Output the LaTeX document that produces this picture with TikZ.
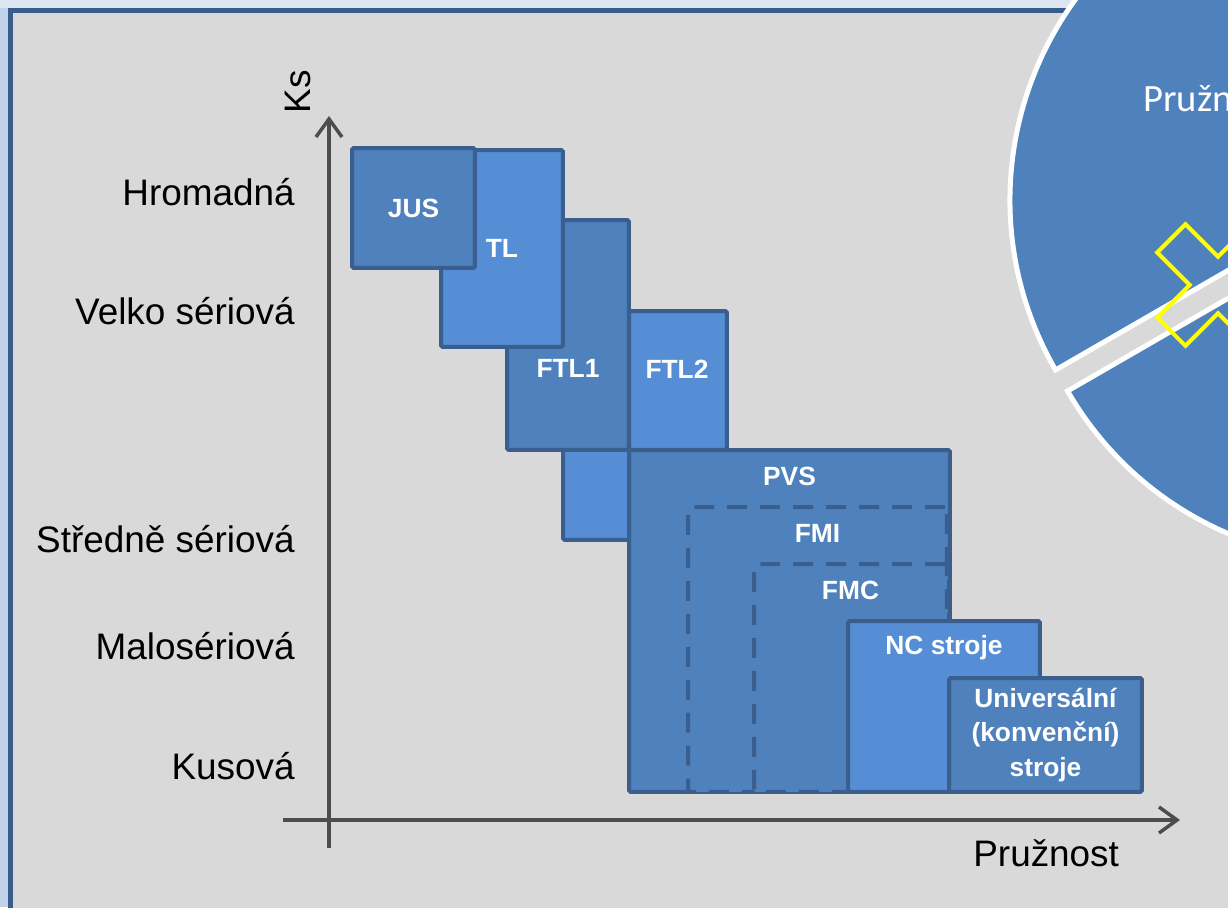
\documentclass[tikz,border=0pt]{standalone}
\usepackage{fontspec}
\setmainfont{Liberation Sans}
\newfontfamily\carlito{Carlito}
\usetikzlibrary{arrows.meta,positioning}
\definecolor{tmava}{HTML}{4F81BD}
\definecolor{svetla}{HTML}{558ED5}
\definecolor{okraj}{HTML}{3A5F8F}
\definecolor{osa}{HTML}{4D4D4D}
\definecolor{panel}{HTML}{D9D9D9}
\definecolor{pozadi}{HTML}{DCE6F2}
\definecolor{levy}{HTML}{BFD2EA}
\definecolor{ramecek}{HTML}{385D8A}
\definecolor{krizek}{HTML}{FFFF00}

\begin{document}
\begin{tikzpicture}[
    x=0.02cm, y=-0.02cm,
    >={Straight Barb[length=0.36cm, width=0.52cm]},
    blok/.style={
		rectangle,
		rounded corners=1pt,
		draw=okraj,
		line width=0.08cm,
		anchor=north west,
		inner sep=0pt,
		outer sep=0pt
	},
    tmavyblok/.style={blok, fill=tmava},
    svetlyblok/.style={blok, fill=svetla},
    carkovany/.style={tmavyblok, dash pattern=on 0.4cm off 0.26cm},
    boxlabel/.style={
		text=white,
		font=\bfseries\fontsize{15}{19.4}\selectfont,
		align=center,
		inner sep=0pt
	},
    toplabel/.style={boxlabel, yshift=-0.53cm},
    level/.style={
		anchor=base east,
		inner sep=0pt,
		font=\fontsize{21}{25}\selectfont
	}
  ]
  \useasboundingbox (0,0) rectangle (1228,907);
  \clip (0,0) rectangle (1228,907);

  % background and panel
  \fill[pozadi] (0,0) rectangle (1228,907);
  \fill[levy] (0,8) rectangle (8,907);
  \draw[ramecek, line width=0.1cm, fill=panel] (10.5,10.5) rectangle (1260,940);

  % the cut pie on the right
  \coordinate (stred) at (1350,200);
  \coordinate (streddole) at (1362,221);
  \draw[white, line width=0.1cm, fill=tmava] (stred) -- ++(150:340) arc[start angle=150, end angle=300, radius=340] -- cycle;
  \draw[white, line width=0.1cm, fill=tmava] (streddole) -- ++(150:340) arc[start angle=150, end angle=30, radius=340] -- cycle;
  \node[anchor=base west, text=white, inner sep=0pt, font=\carlito\fontsize{22}{26}\selectfont] (pruznostkruh) at (1143,111) {Pružnost};
  \draw[krizek, line width=0.08cm, shift={(1218,285)}, rotate=45]
    (-20,-66) -- (20,-66) -- (20,-20) -- (66,-20) -- (66,20) -- (20,20) -- (20,66)
    -- (-20,66) -- (-20,20) -- (-66,20) -- (-66,-20) -- (-20,-20) -- cycle;

  % axes
  \coordinate (ydole) at (329,848);
  \coordinate (yvrchol) at (329,116);
  \coordinate (xvlevo) at (283,820);
  \coordinate (xvpravo) at (1180,820);
  \draw[->, osa, line width=0.07cm] (ydole) -- (yvrchol);
  \draw[->, osa, line width=0.07cm] (xvlevo) -- (xvpravo);

  \node[anchor=base, rotate=90, inner sep=0pt, font=\fontsize{21}{25}\selectfont] (ks) at (310,92) {Ks};
  \node[anchor=base west, inner sep=0pt, font=\fontsize{21}{25}\selectfont] (pruznost) at (973,866) {Pružnost};

  \node[level] (hromadna) at (295,205) {Hromadná};
  \node[level] (velko) at (295,324) {Velko sériová};
  \node[level] (stredne) at (295,552) {Středně sériová};
  \node[level] (malo) at (295,659) {Malosériová};
  \node[level] (kusova) at (295,779) {Kusová};

  % blocks, back to front
  \node[svetlyblok, minimum width=2.0cm, minimum height=2.2cm] (skryty) at (563,430) {};
  \node[tmavyblok, minimum width=2.44cm, minimum height=4.60cm] (ftl1) at (507,220) {};
  \node[svetlyblok, minimum width=2.44cm, minimum height=3.94cm] (tl) at (441,150) {};
  \node[tmavyblok, minimum width=2.46cm, minimum height=2.40cm] (jus) at (352,148) {};
  \node[svetlyblok, minimum width=1.96cm, minimum height=2.78cm] (ftl2) at (629,311) {};
  \node[tmavyblok, minimum width=6.42cm, minimum height=6.84cm] (pvs) at (629,450) {};
  \node[carkovany, minimum width=5.18cm, minimum height=5.70cm] (fmi) at (688,507) {};
  \node[carkovany, minimum width=3.86cm, minimum height=4.56cm] (fmc) at (754,564) {};
  \node[svetlyblok, minimum width=3.84cm, minimum height=3.42cm] (nc) at (848,621) {};
  \node[tmavyblok, minimum width=3.86cm, minimum height=2.28cm] (univ) at (949,678) {};

  \node[boxlabel] (justext) at (jus.center) {JUS};
  \node[boxlabel] (tltext) at (tl.center) {TL};
  \node[boxlabel] (ftl1text) at (568,368) {FTL1};
  \node[boxlabel] (ftl2text) at (677,369) {FTL2};
  \node[toplabel] (pvstext) at (pvs.north) {PVS};
  \node[toplabel] (fmitext) at (fmi.north) {FMI};
  \node[toplabel] (fmctext) at (fmc.north) {FMC};
  \node[toplabel] (nctext) at (nc.north) {NC stroje};
  \node[boxlabel] (univtext) at (univ.center) {Universální\\(konvenční)\\stroje};
\end{tikzpicture}
\end{document}
